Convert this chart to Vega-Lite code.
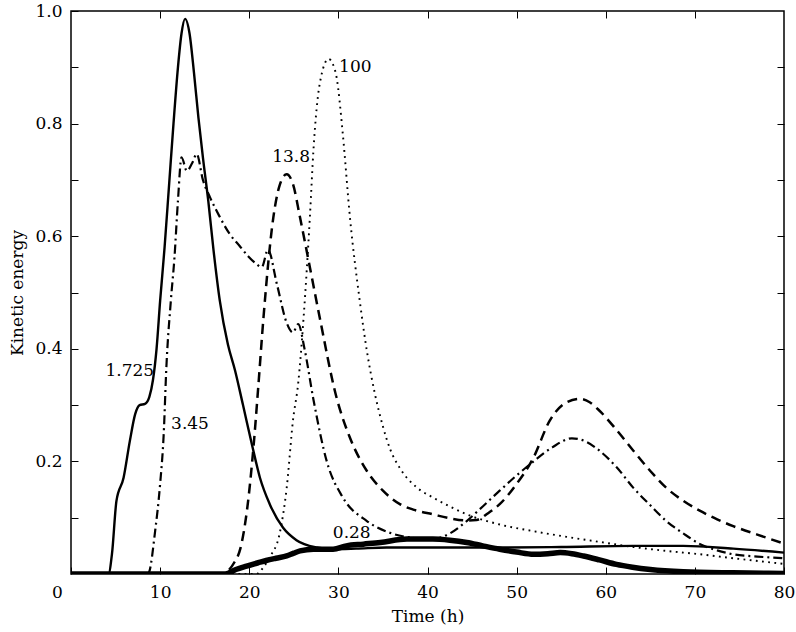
{
  "$schema": "https://vega.github.io/schema/vega-lite/v6.json",
  "autosize": {"type": "none"},
  "padding": {"left": 71, "top": 11, "right": 12, "bottom": 58},
  "width": 713,
  "height": 563,
  "background": "white",
  "config": {
    "view": {"stroke": "#000", "strokeWidth": 1.5},
    "axis": {
      "labelColor": "#000",
      "titleColor": "#000",
      "tickColor": "#000",
      "domain": false,
      "grid": false,
      "tickSize": -7,
      "tickWidth": 1
    }
  },
  "datasets": {
    "a": [
      {"t": 0, "k": 0}, {"t": 4.2, "k": 0}, {"t": 4.6, "k": 0.036}, {"t": 5.1, "k": 0.13},
      {"t": 5.9, "k": 0.171}, {"t": 6.6, "k": 0.236}, {"t": 7.2, "k": 0.284}, {"t": 7.7, "k": 0.3},
      {"t": 8.3, "k": 0.302}, {"t": 8.8, "k": 0.315}, {"t": 9.2, "k": 0.345}, {"t": 9.6, "k": 0.4},
      {"t": 10, "k": 0.485}, {"t": 10.5, "k": 0.58}, {"t": 11, "k": 0.69}, {"t": 11.5, "k": 0.8},
      {"t": 12, "k": 0.9}, {"t": 12.4, "k": 0.96}, {"t": 12.8, "k": 0.986}, {"t": 13.3, "k": 0.96},
      {"t": 13.8, "k": 0.89}, {"t": 14.3, "k": 0.81}, {"t": 14.8, "k": 0.74}, {"t": 15.4, "k": 0.663},
      {"t": 16, "k": 0.574}, {"t": 16.7, "k": 0.485}, {"t": 17.6, "k": 0.408}, {"t": 18.4, "k": 0.362},
      {"t": 19.3, "k": 0.3}, {"t": 20.3, "k": 0.23}, {"t": 21.2, "k": 0.171}, {"t": 22.3, "k": 0.124},
      {"t": 23.8, "k": 0.082}, {"t": 25.3, "k": 0.06}, {"t": 27.6, "k": 0.047}, {"t": 29.4, "k": 0.044},
      {"t": 32, "k": 0.045}, {"t": 35.4, "k": 0.047}, {"t": 41.4, "k": 0.047}, {"t": 48.1, "k": 0.047},
      {"t": 55, "k": 0.048}, {"t": 63, "k": 0.05}, {"t": 68.7, "k": 0.05}, {"t": 74.3, "k": 0.045},
      {"t": 80, "k": 0.038}
    ],
    "b": [
      {"t": 0, "k": 0}, {"t": 8.6, "k": 0}, {"t": 8.8, "k": 0.005}, {"t": 9.4, "k": 0.071},
      {"t": 10, "k": 0.16}, {"t": 10.4, "k": 0.248}, {"t": 10.7, "k": 0.367}, {"t": 11.2, "k": 0.485},
      {"t": 11.6, "k": 0.56}, {"t": 12, "k": 0.663}, {"t": 12.4, "k": 0.74}, {"t": 13, "k": 0.716},
      {"t": 13.6, "k": 0.73}, {"t": 14.1, "k": 0.746}, {"t": 14.8, "k": 0.7}, {"t": 15.6, "k": 0.669},
      {"t": 16.6, "k": 0.637}, {"t": 17.8, "k": 0.604}, {"t": 18.9, "k": 0.583}, {"t": 19.9, "k": 0.564},
      {"t": 20.7, "k": 0.552}, {"t": 21.4, "k": 0.545}, {"t": 22.1, "k": 0.576}, {"t": 23.1, "k": 0.515},
      {"t": 24.2, "k": 0.446}, {"t": 24.9, "k": 0.429}, {"t": 25.5, "k": 0.444}, {"t": 26.2, "k": 0.4},
      {"t": 27.2, "k": 0.31}, {"t": 28.7, "k": 0.2}, {"t": 30.5, "k": 0.136}, {"t": 33.2, "k": 0.094},
      {"t": 36.2, "k": 0.071}, {"t": 38.5, "k": 0.064}, {"t": 40.6, "k": 0.062}, {"t": 42.5, "k": 0.072},
      {"t": 44.4, "k": 0.094}, {"t": 46.2, "k": 0.12}, {"t": 48.1, "k": 0.148}, {"t": 50, "k": 0.175},
      {"t": 51.9, "k": 0.2}, {"t": 54, "k": 0.225}, {"t": 56.2, "k": 0.241}, {"t": 57.8, "k": 0.235},
      {"t": 59.3, "k": 0.219}, {"t": 61.2, "k": 0.19}, {"t": 63.1, "k": 0.153}, {"t": 65, "k": 0.122},
      {"t": 66.8, "k": 0.094}, {"t": 68.7, "k": 0.072}, {"t": 70.6, "k": 0.053}, {"t": 72.5, "k": 0.042},
      {"t": 74.3, "k": 0.035}, {"t": 77, "k": 0.031}, {"t": 80, "k": 0.028}
    ],
    "c": [
      {"t": 0, "k": 0}, {"t": 17.3, "k": 0}, {"t": 17.6, "k": 0.005}, {"t": 18.3, "k": 0.02},
      {"t": 19, "k": 0.045}, {"t": 19.8, "k": 0.12}, {"t": 20.5, "k": 0.23}, {"t": 21, "k": 0.33},
      {"t": 21.6, "k": 0.456}, {"t": 22.7, "k": 0.633}, {"t": 23.4, "k": 0.69},
      {"t": 24.2, "k": 0.71}, {"t": 24.9, "k": 0.693}, {"t": 25.7, "k": 0.633}, {"t": 26.8, "k": 0.545},
      {"t": 27.9, "k": 0.456}, {"t": 29.8, "k": 0.313}, {"t": 31.3, "k": 0.242}, {"t": 33.2, "k": 0.183},
      {"t": 35, "k": 0.148}, {"t": 36.9, "k": 0.124}, {"t": 38.5, "k": 0.114}, {"t": 40.6, "k": 0.106},
      {"t": 42.5, "k": 0.099}, {"t": 44.4, "k": 0.095}, {"t": 45.5, "k": 0.096}, {"t": 46.8, "k": 0.108},
      {"t": 48.1, "k": 0.124}, {"t": 50, "k": 0.16}, {"t": 51.9, "k": 0.207}, {"t": 53.7, "k": 0.272},
      {"t": 55.6, "k": 0.305}, {"t": 57.1, "k": 0.311}, {"t": 58.2, "k": 0.305}, {"t": 59.3, "k": 0.29},
      {"t": 61.2, "k": 0.256}, {"t": 63.1, "k": 0.219}, {"t": 65, "k": 0.183}, {"t": 66.8, "k": 0.153},
      {"t": 68.7, "k": 0.13}, {"t": 70.6, "k": 0.112}, {"t": 72.5, "k": 0.097}, {"t": 74.3, "k": 0.085},
      {"t": 77, "k": 0.07}, {"t": 80, "k": 0.054}
    ],
    "d": [
      {"t": 0, "k": 0}, {"t": 20.8, "k": 0}, {"t": 21.5, "k": 0.01}, {"t": 22.3, "k": 0.03},
      {"t": 23.4, "k": 0.071}, {"t": 24.2, "k": 0.153}, {"t": 24.9, "k": 0.272}, {"t": 25.5, "k": 0.34},
      {"t": 26.1, "k": 0.456}, {"t": 26.8, "k": 0.633}, {"t": 27.2, "k": 0.752}, {"t": 27.9, "k": 0.87},
      {"t": 28.9, "k": 0.915}, {"t": 29.4, "k": 0.905}, {"t": 29.8, "k": 0.882}, {"t": 30.5, "k": 0.781},
      {"t": 31.3, "k": 0.633}, {"t": 32.4, "k": 0.485}, {"t": 33.2, "k": 0.396}, {"t": 34.1, "k": 0.32},
      {"t": 35, "k": 0.262}, {"t": 35.8, "k": 0.222}, {"t": 36.9, "k": 0.188}, {"t": 38.7, "k": 0.155},
      {"t": 40.6, "k": 0.136}, {"t": 42.5, "k": 0.12}, {"t": 44.4, "k": 0.106}, {"t": 48.1, "k": 0.088},
      {"t": 51.9, "k": 0.076}, {"t": 55.6, "k": 0.066}, {"t": 59.3, "k": 0.057}, {"t": 63.1, "k": 0.048},
      {"t": 66.8, "k": 0.041}, {"t": 70.6, "k": 0.035}, {"t": 74.3, "k": 0.028}, {"t": 80, "k": 0.018}
    ],
    "e": [
      {"t": 0, "k": 0}, {"t": 17.3, "k": 0}, {"t": 18.5, "k": 0.008}, {"t": 19.7, "k": 0.014},
      {"t": 21, "k": 0.02}, {"t": 21.9, "k": 0.024}, {"t": 23, "k": 0.028}, {"t": 24.2, "k": 0.032},
      {"t": 25, "k": 0.037}, {"t": 25.7, "k": 0.041}, {"t": 27.2, "k": 0.044}, {"t": 29.4, "k": 0.044},
      {"t": 30.9, "k": 0.05}, {"t": 32.8, "k": 0.053}, {"t": 34.7, "k": 0.056}, {"t": 37.7, "k": 0.062},
      {"t": 40.6, "k": 0.062}, {"t": 42.5, "k": 0.06}, {"t": 44.4, "k": 0.056}, {"t": 46.2, "k": 0.05},
      {"t": 48.1, "k": 0.044}, {"t": 50, "k": 0.039}, {"t": 51.9, "k": 0.035}, {"t": 53.5, "k": 0.036},
      {"t": 54.9, "k": 0.038}, {"t": 56.2, "k": 0.036}, {"t": 57.5, "k": 0.032}, {"t": 59.3, "k": 0.025},
      {"t": 61.2, "k": 0.017}, {"t": 63, "k": 0.012}, {"t": 65, "k": 0.008}, {"t": 68.7, "k": 0.004},
      {"t": 74.3, "k": 0.002}, {"t": 80, "k": 0.001}
    ],
    "labels": [
      {"t": 6.6, "k": 0.361, "label": "1.725"},
      {"t": 13.35, "k": 0.267, "label": "3.45"},
      {"t": 24.7, "k": 0.74, "label": "13.8"},
      {"t": 31.9, "k": 0.9, "label": "100"},
      {"t": 31.5, "k": 0.073, "label": "0.28"}
    ]
  },
  "layer": [
    {
      "data": {"name": "a"},
      "mark": {"type": "line", "interpolate": "monotone", "color": "#000", "strokeWidth": 2.4, "clip": true},
      "encoding": {
        "x": {
          "field": "t", "type": "quantitative",
          "scale": {"domain": [0, 80], "nice": false, "zero": false},
          "axis": {
            "title": "Time (h)",
            "orient": "bottom",
            "values": [0, 10, 20, 30, 40, 50, 60, 70, 80],
            "labelFont": "DejaVu Serif",
            "labelFontSize": 17,
            "titleFont": "DejaVu Serif",
            "titleFontSize": 17,
            "titleFontWeight": "normal",
            "labelPadding": 17,
            "labelFlush": false,
            "labelOffset": {"condition": {"test": "datum.value == 0", "value": -14}, "value": 0},
            "titlePadding": 8
          }
        },
        "y": {
          "field": "k", "type": "quantitative",
          "scale": {"domain": [0, 1], "nice": false},
          "axis": {
            "title": "Kinetic energy",
            "orient": "left",
            "values": [0.1, 0.2, 0.3, 0.4, 0.5, 0.6, 0.7, 0.8, 0.9, 1.0],
            "labelExpr": "round(datum.value * 10) % 2 == 0 ? format(datum.value, '.1f') : ''",
            "labelFont": "DejaVu Serif",
            "labelFontSize": 17,
            "titleFont": "DejaVu Serif",
            "titleFontSize": 17,
            "titleFontWeight": "normal",
            "labelPadding": 16,
            "labelFlush": false,
            "titlePadding": 8
          }
        },
        "order": {"field": "t", "type": "quantitative"}
      }
    },
    {
      "data": {"name": "b"},
      "mark": {"type": "line", "interpolate": "monotone", "color": "#000", "strokeWidth": 2.2, "strokeDash": [9, 4, 2, 4], "clip": true},
      "encoding": {
        "x": {"field": "t", "type": "quantitative", "axis": null},
        "y": {"field": "k", "type": "quantitative", "axis": null},
        "order": {"field": "t", "type": "quantitative"}
      }
    },
    {
      "data": {"name": "c"},
      "mark": {"type": "line", "interpolate": "monotone", "color": "#000", "strokeWidth": 2.5, "strokeDash": [10, 6], "clip": true},
      "encoding": {
        "x": {"field": "t", "type": "quantitative", "axis": null},
        "y": {"field": "k", "type": "quantitative", "axis": null},
        "order": {"field": "t", "type": "quantitative"}
      }
    },
    {
      "data": {"name": "d"},
      "mark": {"type": "line", "interpolate": "monotone", "color": "#000", "strokeWidth": 1.9, "strokeDash": [1.8, 4.4], "clip": true},
      "encoding": {
        "x": {"field": "t", "type": "quantitative", "axis": null},
        "y": {"field": "k", "type": "quantitative", "axis": null},
        "order": {"field": "t", "type": "quantitative"}
      }
    },
    {
      "data": {"name": "e"},
      "mark": {"type": "line", "interpolate": "monotone", "color": "#000", "strokeWidth": 5.5, "clip": true},
      "encoding": {
        "x": {"field": "t", "type": "quantitative", "axis": null},
        "y": {"field": "k", "type": "quantitative", "axis": null},
        "order": {"field": "t", "type": "quantitative"}
      }
    },
    {
      "data": {"name": "labels"},
      "mark": {"type": "text", "font": "DejaVu Serif", "fontSize": 17, "color": "#000", "baseline": "middle", "align": "center"},
      "encoding": {
        "x": {
          "field": "t", "type": "quantitative",
          "axis": {"orient": "top", "title": null, "labels": false, "values": [10, 20, 30, 40, 50, 60, 70]}
        },
        "y": {
          "field": "k", "type": "quantitative",
          "axis": {"orient": "right", "title": null, "labels": false, "values": [0.1, 0.2, 0.3, 0.4, 0.5, 0.6, 0.7, 0.8, 0.9]}
        },
        "text": {"field": "label"}
      }
    }
  ],
  "resolve": {"axis": {"x": "independent", "y": "independent"}}
}
